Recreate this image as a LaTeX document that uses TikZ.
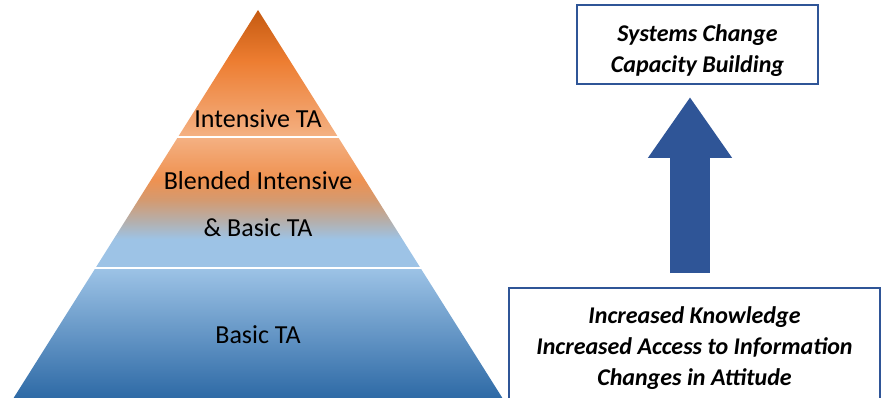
\documentclass[tikz,border=0pt]{standalone}
\usepackage{fontspec}
\setmainfont{Carlito}
\usepackage{tikz}
\usepackage{xcolor}
\usetikzlibrary{arrows.meta}

\definecolor{tipDark}{HTML}{C55A11}
\definecolor{tipMid}{HTML}{ED7D31}
\definecolor{tipLight}{HTML}{F4B183}
\definecolor{midOrange}{HTML}{EF9150}
\definecolor{midTan}{HTML}{D49A70}
\definecolor{midGrey}{HTML}{B5AFAB}
\definecolor{baseLight}{HTML}{9DC3E6}
\definecolor{baseMid}{HTML}{5B9BD5}
\definecolor{baseDark}{HTML}{2E6AA6}
\definecolor{frameBlue}{HTML}{2F5597}

\pgfdeclareverticalshading{tipshade}{100bp}{color(0bp)=(tipLight); color(25bp)=(tipLight); color(55bp)=(tipMid); color(75bp)=(tipDark); color(100bp)=(tipDark)}
\pgfdeclareverticalshading{blendshade}{100bp}{color(0bp)=(baseLight); color(25bp)=(baseLight); color(36bp)=(baseLight); color(43bp)=(midGrey); color(51bp)=(midTan); color(59bp)=(midOrange); color(75bp)=(tipLight); color(100bp)=(tipLight)}

\begin{document}
\begin{tikzpicture}[x=1pt, y=-1pt,
  lbl/.style={align=center, font=\fontsize{26}{47}\selectfont},
  goalbox/.style={draw=frameBlue, line width=2pt, fill=white},
  goaltext/.style={align=center, font=\fontsize{24}{31}\selectfont\bfseries\itshape},
  gap/.style={white, line width=2.5pt}]
\clip (0,0) rectangle (882,398);

% pyramid
\shade[shading=tipshade] (258,10) -- (178,137) -- (338,137) -- cycle;
\shade[shading=blendshade] (178,137) -- (95.5,268) -- (420.5,268) -- (338,137) -- cycle;
\shade[top color=baseLight, middle color=baseMid, bottom color=baseDark] (95.5,268) -- (13.6,398) -- (502.4,398) -- (420.5,268) -- cycle;
\draw[gap] (170,137) -- (346,137);
\draw[gap] (88,268) -- (428,268);

\node[lbl] (intensive) at (258,119) {Intensive TA};
\node[lbl] (blended) at (258,204) {Blended Intensive\\\& Basic TA};
\node[lbl] (basic) at (258,335) {Basic TA};

% outcomes
\node[goalbox, minimum width=241, minimum height=79] (systems) at (697.5,44.5) {};
\node[goaltext] (systemstext) at ([yshift=-6pt]systems.center) {Systems Change\\Capacity Building};
\node[goalbox, minimum width=371, minimum height=116] (knowledge) at (694.5,346) {};
\node[goaltext] (knowledgetext) at ([yshift=-2pt]knowledge.center) {Increased Knowledge\\Increased Access to Information\\Changes in Attitude};

\draw[frameBlue, line width=40pt, -{Triangle[length=61pt, width=80pt]}]
  ([xshift=-4.5pt, yshift=14pt]knowledge.north) -- ([xshift=-7.5pt, yshift=-12pt]systems.south);
\end{tikzpicture}
\end{document}
